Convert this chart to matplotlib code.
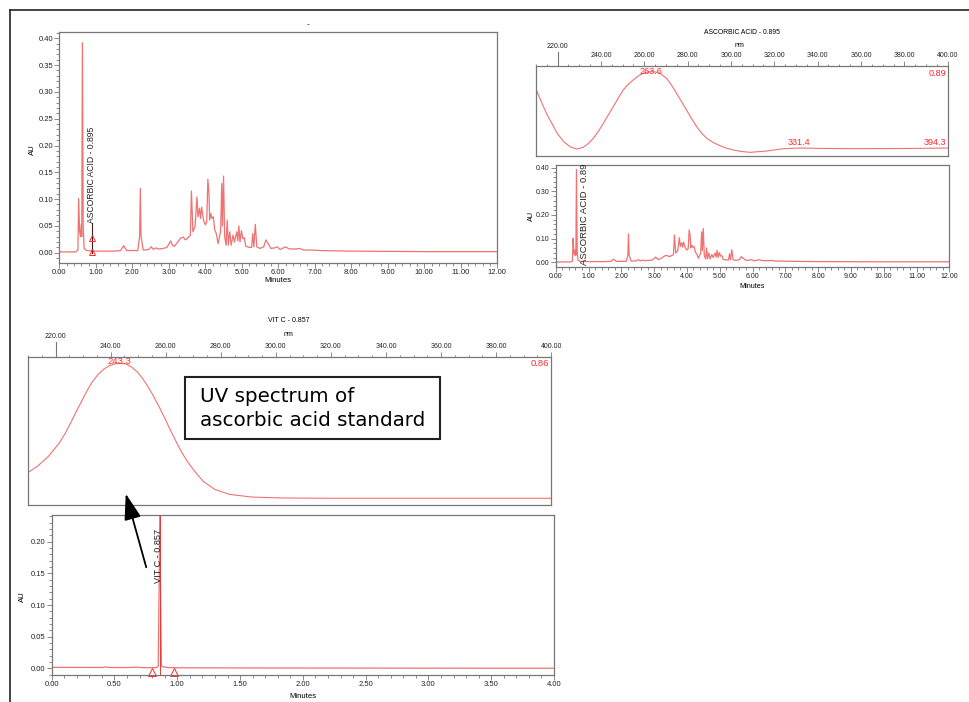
import numpy as np
import matplotlib
matplotlib.use('Agg')
import matplotlib.pyplot as plt
from matplotlib.ticker import MultipleLocator, FormatStrFormatter
from matplotlib.patches import Rectangle, FancyArrowPatch
from matplotlib.lines import Line2D

W, H = 969, 702

# sample chromatogram (minutes, AU)
t_chrom = [0.00, 0.45, 0.51, 0.53, 0.555, 0.58, 0.60, 0.615, 0.633, 0.655,
           0.68, 0.75, 1.00, 1.50, 1.68, 1.76, 1.85, 2.15, 2.20, 2.22,
           2.24, 2.30, 2.45, 2.52, 2.58, 2.65, 2.72, 2.85, 2.95, 3.05,
           3.10, 3.15, 3.25, 3.32, 3.40, 3.45, 3.50, 3.55, 3.59, 3.62,
           3.66, 3.72, 3.77, 3.80, 3.84, 3.87, 3.90, 3.95, 4.00, 4.04,
           4.07, 4.10, 4.12, 4.15, 4.18, 4.22, 4.26, 4.30, 4.35, 4.42,
           4.45, 4.47, 4.50, 4.53, 4.57, 4.60, 4.63, 4.67, 4.71, 4.76,
           4.80, 4.86, 4.89, 4.92, 4.95, 4.99, 5.03, 5.07, 5.11, 5.20,
           5.27, 5.30, 5.33, 5.37, 5.41, 5.50, 5.60, 5.66, 5.72, 5.80,
           5.90, 5.97, 6.05, 6.20, 6.30, 6.50, 6.58, 6.70, 6.90, 7.20,
           8.00, 10.00, 12.00]
au_chrom = [0.0015, 0.0015, 0.005, 0.101, 0.040, 0.030, 0.052, 0.030, 0.392, 0.050,
            0.008, 0.004, 0.003, 0.003, 0.004, 0.013, 0.004, 0.004, 0.030, 0.120,
            0.030, 0.005, 0.006, 0.011, 0.006, 0.009, 0.007, 0.008, 0.010, 0.022,
            0.014, 0.012, 0.020, 0.027, 0.029, 0.024, 0.026, 0.030, 0.032, 0.115,
            0.039, 0.049, 0.104, 0.067, 0.083, 0.064, 0.085, 0.061, 0.052, 0.058,
            0.137, 0.111, 0.061, 0.073, 0.064, 0.067, 0.042, 0.036, 0.017, 0.040,
            0.129, 0.050, 0.143, 0.030, 0.014, 0.061, 0.014, 0.039, 0.014, 0.033,
            0.020, 0.039, 0.022, 0.050, 0.020, 0.041, 0.026, 0.028, 0.012, 0.010,
            0.010, 0.036, 0.011, 0.053, 0.011, 0.008, 0.011, 0.024, 0.017, 0.008,
            0.009, 0.011, 0.006, 0.011, 0.007, 0.007, 0.008, 0.005, 0.005, 0.004,
            0.003, 0.002, 0.002]

# UV spectrum of the sample peak (nm, AU)
nm_sample = [209.9, 211.0, 213.0, 215.0, 217.5, 220.0, 223.0, 226.0, 228.8, 231.8,
             234.0, 236.5, 238.8, 241.1, 243.4, 245.7, 248.0, 250.3, 252.6, 254.9,
             257.2, 259.5, 261.5, 263.4, 265.3, 267.2, 270.3, 272.6, 274.9, 277.2,
             279.5, 281.8, 284.2, 286.5, 288.8, 291.8, 294.9, 298.0, 301.1, 304.9,
             308.8, 316.5, 324.2, 331.8, 341.1, 356.5, 371.8, 387.2, 400.0]
au_sample = [0.706, 0.640, 0.530, 0.420, 0.310, 0.200, 0.110, 0.055, 0.033, 0.052,
             0.090, 0.152, 0.228, 0.318, 0.410, 0.502, 0.598, 0.687, 0.750, 0.798,
             0.842, 0.872, 0.886, 0.890, 0.886, 0.872, 0.816, 0.740, 0.650, 0.558,
             0.465, 0.370, 0.280, 0.208, 0.152, 0.105, 0.070, 0.042, 0.022, 0.006,
             -0.004, 0.011, 0.037, 0.044, 0.040, 0.037, 0.038, 0.040, 0.044]

# UV spectrum of the vitamin C standard
nm_std = [209.9, 213.3, 217.3, 221.3, 223.4, 225.4, 227.4, 229.4, 231.4, 233.4,
          235.5, 237.5, 239.5, 241.5, 243.5, 245.5, 247.5, 249.6, 251.6, 253.6,
          255.6, 257.6, 259.7, 261.7, 263.7, 265.7, 267.7, 269.7, 271.8, 273.8,
          277.8, 283.2, 291.2, 302.0, 320.8, 400.0]
au_std = [0.163, 0.202, 0.265, 0.350, 0.410, 0.477, 0.548, 0.616, 0.683, 0.743,
          0.790, 0.822, 0.845, 0.856, 0.860, 0.856, 0.838, 0.807, 0.764, 0.711,
          0.650, 0.584, 0.510, 0.435, 0.364, 0.297, 0.240, 0.191, 0.145, 0.106,
          0.057, 0.025, 0.008, 0.002, 0.000, 0.000]

# standard chromatogram
t_std = [0.00, 0.20, 0.40, 0.43, 0.46, 0.60, 0.68, 0.72, 0.80, 0.835,
         0.848, 0.855, 0.861, 0.867, 0.874, 0.885, 0.92, 1.00, 1.50, 2.00,
         2.50, 3.00, 3.50, 4.00]
au_std_c = [0.0015, 0.0014, 0.0013, 0.0022, 0.0013, 0.0011, 0.0018, 0.0010, 0.0010, 0.0012,
            0.0030, 0.120, 0.250, 0.120, 0.0035, 0.0025, 0.0012, 0.0008, 0.0006, 0.0004,
            0.0003, 0.0002, 0.0001, 0.0001]

plt.rcParams['font.family'] = ['Liberation Sans', 'DejaVu Sans']

FRAME = '#777777'
TRACE = '#f07272'
RED = '#ff2b2b'

fig = plt.figure(figsize=(W / 100, H / 100), dpi=100)


def px_axes(x0, y0, x1, y1):
    return fig.add_axes([x0 / W, 1 - y1 / H, (x1 - x0) / W, (y1 - y0) / H])


def ftext(x, y, s, **kw):
    # text placed in pixel coords (top-left origin)
    return fig.text(x / W, 1 - y / H, s, **kw)


def style_chrom(ax, xmax, xmaj, xmin_, ylim, ymaj, ymin_, fs):
    ax.set_xlim(0, xmax)
    ax.set_ylim(*ylim)
    ax.xaxis.set_major_locator(MultipleLocator(xmaj))
    ax.xaxis.set_minor_locator(MultipleLocator(xmin_))
    ax.yaxis.set_major_locator(MultipleLocator(ymaj))
    ax.yaxis.set_minor_locator(MultipleLocator(ymin_))
    ax.xaxis.set_major_formatter(FormatStrFormatter('%.2f'))
    ax.yaxis.set_major_formatter(FormatStrFormatter('%.2f'))
    ax.tick_params(which='both', direction='out', color=FRAME, width=0.6,
                   labelsize=fs, pad=1, labelcolor='#222222')
    ax.tick_params(which='major', length=3.5)
    ax.tick_params(which='minor', length=2)
    for s in ax.spines.values():
        s.set_color(FRAME)
        s.set_linewidth(0.9)


def style_spec(ax, ylim, h_px, long_tick, label_off):
    ax.set_xlim(209.9, 400)
    ax.set_ylim(*ylim)
    ax.xaxis.tick_top()
    ax.set_xticks(np.arange(240, 401, 20))
    ax.xaxis.set_minor_locator(MultipleLocator(5))
    ax.xaxis.set_major_formatter(FormatStrFormatter('%.2f'))
    ax.set_yticks([])
    ax.tick_params(axis='x', which='both', direction='out', color=FRAME, width=0.6,
                   labelsize=5, pad=1, labelcolor='#222222')
    ax.tick_params(axis='x', which='major', length=3.5)
    ax.tick_params(axis='x', which='minor', length=1.8)
    for s in ax.spines.values():
        s.set_color(FRAME)
        s.set_linewidth(0.9)
    tr = ax.get_xaxis_transform()
    ax.plot([220, 220], [1, 1 + long_tick / h_px], transform=tr, color=FRAME,
            lw=0.8, clip_on=False)
    ax.text(220, 1 + label_off / h_px, '220.00', transform=tr, ha='center',
            va='center', fontsize=5, color='#222222')


# ---- top-left: sample chromatogram ----
ax1 = px_axes(59.3, 32, 497.3, 263)
ax1.plot(t_chrom, au_chrom, color=TRACE, lw=0.9)
style_chrom(ax1, 12, 1, 0.2, (-0.0192, 0.4118), 0.05, 0.01, 5.5)
ax1.plot([0.895, 0.895], [0.0, 0.055], color='#3a2020', lw=0.8)
ax1.plot([0.895, 0.895], [0.027, 0.001], ls='none', marker='^', ms=5,
         mfc='none', mec=RED, mew=0.7)
ax1.text(0.885, 0.056, 'ASCORBIC ACID - 0.895', rotation=90, ha='center',
         va='bottom', fontsize=6.2, color='#222222')
ftext(278.3, 281, 'Minutes', ha='center', va='center', fontsize=5.6)
ftext(32.3, 150, 'AU', ha='center', va='center', rotation=90, fontsize=5.6)
ftext(308, 25, '-', ha='center', va='center', fontsize=6)

# ---- top-right: sample UV spectrum ----
ax2 = px_axes(535.7, 65.7, 947.7, 156)
ax2.plot(nm_sample, au_sample, color=TRACE, lw=0.8)
style_spec(ax2, (-0.0443, 0.956), 90.3, 13.4, 19)
ax2.text(263.2, 0.89, '263.6', ha='center', va='center', fontsize=6.6, color=RED)
ax2.text(399.4, 0.872, '0.89', ha='right', va='center', fontsize=6.6, color=RED)
ax2.text(331.5, 0.103, '331.4', ha='center', va='center', fontsize=6.6, color=RED)
ax2.text(399.4, 0.103, '394.3', ha='right', va='center', fontsize=6.6, color=RED)
ftext(741.7, 32.7, 'ASCORBIC ACID - 0.895', ha='center', va='center', fontsize=4.9)
ftext(739.3, 45.7, 'nm', ha='center', va='center', fontsize=5)

# ---- right: sample chromatogram (small) ----
ax3 = px_axes(555.7, 165, 949.3, 266.7)
ax3.plot(t_chrom, au_chrom, color=TRACE, lw=0.9)
style_chrom(ax3, 12, 1, 0.2, (-0.0186, 0.4114), 0.1, 0.02, 5)
ax3.text(0.873, -0.012, 'ASCORBIC ACID - 0.895', rotation=90, ha='center',
         va='bottom', fontsize=6.8, color='#222222', clip_on=True)
ftext(752, 286.7, 'Minutes', ha='center', va='center', fontsize=5.2)
ftext(531.7, 216, 'AU', ha='center', va='center', rotation=90, fontsize=5.2)

# ---- bottom: standard UV spectrum ----
ax4 = px_axes(27.7, 356.7, 551.2, 505)
ax4.plot(nm_std, au_std, color=TRACE, lw=0.8)
style_spec(ax4, (-0.0427, 0.902), 148.3, 15, 20)
ax4.text(243.1, 0.870, '243.3', ha='center', va='center', fontsize=6.8, color=RED)
ax4.text(399.3, 0.86, '0.86', ha='right', va='center', fontsize=6.8, color=RED)
ftext(288.6, 321, 'VIT C - 0.857', ha='center', va='center', fontsize=5)
ftext(288.6, 335, 'nm', ha='center', va='center', fontsize=5)

# ---- bottom: standard chromatogram ----
ax5 = px_axes(51.7, 515, 554, 675)
ax5.plot(t_std, au_std_c, color=TRACE, lw=0.9)
style_chrom(ax5, 4, 0.5, 0.1, (-0.0106, 0.2422), 0.05, 0.01, 5.5)
ax5.axvline(0.862, color='#e23a3a', lw=0.7)
ax5.plot([0.795, 0.97], [-0.0055, -0.0055], ls='none', marker='^', ms=5.5,
         mfc='none', mec=RED, mew=0.7, clip_on=False)
ax5.text(0.85, 0.135, 'VIT C - 0.857', rotation=90, ha='center', va='bottom',
         fontsize=6.6, color='#222222')
ftext(302.8, 696.5, 'Minutes', ha='center', va='center', fontsize=5.6)
ftext(22, 596.7, 'AU', ha='center', va='center', rotation=90, fontsize=5.6)

# ---- annotation box and arrow ----
fig.add_artist(Rectangle((185 / W, 1 - 439 / H), (440 - 185) / W, (439 - 376.7) / H,
                         transform=fig.transFigure, facecolor='white',
                         edgecolor='#222222', lw=1.5, zorder=5))
ftext(199.8, 396.7, 'UV spectrum of', ha='left', va='center', fontsize=14.3,
      family='DejaVu Sans', zorder=6)
ftext(199.8, 420, 'ascorbic acid standard', ha='left', va='center', fontsize=14.3,
      family='DejaVu Sans', zorder=6)
fig.add_artist(FancyArrowPatch((147 / W, 1 - 570 / H), (125 / W, 1 - 491 / H),
                               transform=fig.transFigure,
                               arrowstyle='-|>,head_length=0.8,head_width=0.26',
                               mutation_scale=20, color='black', lw=1.3, zorder=6))

# outer page border (left and top)
fig.add_artist(Line2D([9.5 / W, 9.5 / W], [0, 1 - 9.5 / H], transform=fig.transFigure,
                      color='#222222', lw=1.2))
fig.add_artist(Line2D([9.5 / W, 1], [1 - 9.5 / H, 1 - 9.5 / H], transform=fig.transFigure,
                      color='#222222', lw=1.2))

fig.savefig('out.png', dpi=100)
